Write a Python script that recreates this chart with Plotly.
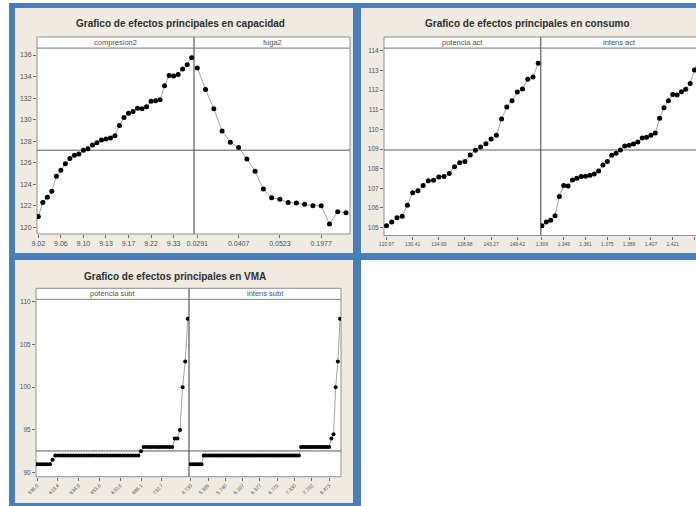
import plotly.graph_objects as go

W, H = 696, 506

# ---------------- data ----------------
# Panel 1: capacidad
compresion2_ticktext = ['9.02', '9.06', '9.10', '9.13', '9.17', '9.22', '9.33']
compresion2_cap = [121.0, 122.3, 122.8, 123.35, 124.75, 125.3, 125.9, 126.4, 126.7, 126.8,
                   127.16, 127.3, 127.65, 127.85, 128.1, 128.2, 128.3, 128.5, 129.45, 130.2,
                   130.6, 130.75, 131.05, 131.0, 131.2, 131.7, 131.75, 131.85, 133.15, 134.1,
                   134.05, 134.2, 134.7, 135.1, 135.75]
fuga2_ticktext = ['0.0291', '0.0407', '0.0523', '0.1977']
fuga2_cap = [134.8, 132.8, 131.0, 128.95, 127.9, 127.4, 126.35, 125.2, 123.55, 122.75,
             122.6, 122.3, 122.25, 122.15, 122.0, 122.0, 120.3, 121.45, 121.35]
cap_mean = 127.16
cap_yticks = [120, 122, 124, 126, 128, 130, 132, 134, 136]

# Panel 2: consumo
potencia_act_ticktext = ['120.97', '130.41', '134.69', '138.98', '143.27', '148.42']
potencia_act_cons = [105.09, 105.29, 105.5, 105.58, 106.14, 106.77, 106.88, 107.14, 107.39, 107.41,
                     107.58, 107.6, 107.76, 108.1, 108.3, 108.36, 108.7, 108.94, 109.1, 109.27,
                     109.51, 109.7, 110.53, 111.14, 111.46, 111.9, 112.05, 112.55, 112.66, 113.36]
intens_act_ticktext = ['1.306', '1.346', '1.361', '1.375', '1.389', '1.407', '1.421', '1.436']
intens_act_cons = [105.09, 105.29, 105.38, 105.6, 106.58, 107.14, 107.12, 107.43, 107.51, 107.6,
                   107.61, 107.66, 107.73, 107.88, 108.19, 108.36, 108.68, 108.78, 108.95, 109.16,
                   109.19, 109.26, 109.36, 109.56, 109.6, 109.7, 109.82, 110.56, 111.1, 111.46,
                   111.78, 111.75, 111.92, 112.04, 112.34, 113.02, 113.6]
cons_mean = 108.95
cons_yticks = [105, 106, 107, 108, 109, 110, 111, 112, 113, 114]

# Panel 3: VMA
potencia_subt_ticktext = ['598.0', '619.4', '634.9', '653.0', '670.0', '688.1', '732.7']
potencia_subt_vma = [91, 91, 91, 91, 91, 91, 91.5,
                     92, 92, 92, 92, 92, 92, 92, 92, 92, 92, 92, 92, 92, 92, 92, 92, 92,
                     92, 92, 92, 92, 92, 92, 92, 92, 92, 92, 92, 92, 92, 92, 92, 92,
                     92.5,
                     93, 93, 93, 93, 93, 93, 93, 93, 93, 93, 93, 93,
                     94, 94, 95, 100, 103, 108]
intens_subt_ticktext = ['4.739', '5.395', '5.740', '6.107', '6.377', '6.775', '7.330', '7.792', '8.473']
intens_subt_vma = [91, 91, 91, 91, 91, 91,
                   92, 92, 92, 92, 92, 92, 92, 92, 92, 92, 92, 92, 92, 92, 92,
                   92, 92, 92, 92, 92, 92, 92, 92, 92, 92, 92, 92, 92, 92, 92,
                   92, 92, 92, 92, 92, 92, 92, 92, 92, 92, 92, 92, 92, 92, 92,
                   93, 93, 93, 93, 93, 93, 93, 93, 93, 93, 93, 93, 93, 93,
                   94, 94.5, 100, 103, 108]
vma_mean = 92.54
vma_yticks = [90, 95, 100, 105, 110]

# ---------------- styling ----------------
BLUE = '#4a7ebb'
BEIGE = '#efebe2'
FRAME = '#8f8f8f'
DIV = '#7a7a7a'
MEANC = '#5a5a5a'
TXT = '#505050'
TITLEC = '#2e2e2e'
FONT = 'Liberation Sans'


def X(px):
    return px / W


def Y(py):
    return 1 - py / H


shapes = []
annotations = []


def rect(x0, y0, x1, y1, fill, line=None, lw=0):
    shapes.append(dict(type='rect', xref='paper', yref='paper', layer='below',
                       x0=X(x0), x1=X(x1), y0=Y(y1), y1=Y(y0), fillcolor=fill,
                       line=dict(color=line or fill, width=lw)))


def vline(x, y0, y1, color, lw):
    shapes.append(dict(type='line', xref='paper', yref='paper', layer='below',
                       x0=X(x), x1=X(x), y0=Y(y1), y1=Y(y0),
                       line=dict(color=color, width=lw)))


# backgrounds / blue borders
rect(9, 3, 700, 510, BLUE)
rect(15, 8, 353, 253, BEIGE)
rect(361, 8, 700, 253, BEIGE)
rect(15, 260, 353, 503, BEIGE)
rect(361, 260, 700, 510, 'white')

panels = [
    dict(title='Grafico de efectos principales en capacidad', tx=180, ty=24,
         left=37, div=194, right=350, stop=37, top=48, bottom=234,
         yr=[119.38, 136.65], yticks=cap_yticks, mean=cap_mean, ytf=7, xtf=7, angle=0, msize=5,
         facets=[
             dict(name='compresion2', y=compresion2_cap, tt=compresion2_ticktext, step=5, xr=[-0.29, 34.52]),
             dict(name='fuga2', y=fuga2_cap, tt=fuga2_ticktext, step=5, xr=[-0.4, 18.49]),
         ]),
    dict(title='Grafico de efectos principales en consumo', tx=527.5, ty=24,
         left=384, div=540.7, right=702, stop=37, top=48, bottom=235.5,
         yr=[104.6, 114.14], yticks=cons_yticks, mean=cons_mean, ytf=6.5, xtf=5, angle=0, msize=5,
         facets=[
             dict(name='potencia act', y=potencia_act_cons, tt=potencia_act_ticktext, step=5, xr=[-0.48, 29.48]),
             dict(name='intens act', y=intens_act_cons, tt=intens_act_ticktext, step=5, xr=[-0.28, 35.34]),
         ]),
    dict(title='Grafico de efectos principales en VMA', tx=175, ty=276,
         left=36, div=189, right=341, stop=288.3, top=299.3, bottom=476.7,
         yr=[89.53, 110.28], yticks=vma_yticks, mean=vma_mean, ytf=6.5, xtf=5, angle=-45, msize=4,
         facets=[
             dict(name='potencia subt', y=potencia_subt_vma, tt=potencia_subt_ticktext, step=8, xr=[-0.385, 58.46]),
             dict(name='intens subt', y=intens_subt_vma, tt=intens_subt_ticktext, step=8, xr=[-0.786, 69.45]),
         ]),
]

fig = go.Figure()
layout_axes = {}
xi = 0
for pi, p in enumerate(panels):
    yname = 'y' if pi == 0 else f'y{pi + 1}'
    ykey = 'yaxis' if pi == 0 else f'yaxis{pi + 1}'
    rect(p['left'], p['top'], p['right'], p['bottom'], 'white', FRAME, 1)
    rect(p['left'], p['stop'], p['right'], p['top'], 'white', FRAME, 1)
    vline(p['div'], p['stop'], p['bottom'], DIV, 1.5)
    annotations.append(dict(text='<b>' + p['title'] + '</b>', xref='paper', yref='paper',
                            x=X(p['tx']), y=Y(p['ty']), showarrow=False,
                            font=dict(family=FONT, size=10, color=TITLEC),
                            xanchor='center', yanchor='middle'))
    bounds = [(p['left'], p['div']), (p['div'], min(p['right'], W))]
    first_xname = None
    for fi, f in enumerate(p['facets']):
        xi += 1
        xname = 'x' if xi == 1 else f'x{xi}'
        xkey = 'xaxis' if xi == 1 else f'xaxis{xi}'
        if first_xname is None:
            first_xname = xname
        n = len(f['y'])
        xs = list(range(n))
        fig.add_trace(go.Scatter(x=xs, y=f['y'], xaxis=xname, yaxis=yname, mode='lines+markers',
                                 line=dict(color='#a3a3a3', width=1),
                                 marker=dict(color='black', size=p['msize']),
                                 showlegend=False, hoverinfo='skip'))
        tv = xs[::f['step']][:len(f['tt'])]
        b0, b1 = bounds[fi]
        layout_axes[xkey] = dict(domain=[X(b0), X(b1)], range=f['xr'], anchor=yname,
                                 automargin=False,
                                 showgrid=False, zeroline=False, showline=False,
                                 ticks='outside', ticklen=3, tickcolor='#6a6a6a', tickwidth=1,
                                 tickvals=tv, ticktext=f['tt'], tickangle=p['angle'],
                                 tickfont=dict(family=FONT, size=p['xtf'], color=TXT))
        if pi == 1 and fi == 1:
            cx = p['div'] + (p['div'] - p['left']) / 2
        else:
            cx = (b0 + b1) / 2
        annotations.append(dict(text=f['name'], xref='paper', yref='paper',
                                x=X(cx), y=Y((p['stop'] + p['top']) / 2), showarrow=False,
                                font=dict(family=FONT, size=7.5, color=TXT),
                                xanchor='center', yanchor='middle'))
    layout_axes[ykey] = dict(domain=[Y(p['bottom']), Y(p['top'])], range=p['yr'], anchor=first_xname,
                             automargin=False,
                             showgrid=False, zeroline=False, showline=False,
                             ticks='outside', ticklen=3, tickcolor='#6a6a6a', tickwidth=1,
                             tickvals=p['yticks'],
                             tickfont=dict(family=FONT, size=p['ytf'], color=TXT))
    shapes.append(dict(type='line', xref='paper', yref=yname, layer='below',
                       x0=X(p['left']), x1=X(min(p['right'], W)), y0=p['mean'], y1=p['mean'],
                       line=dict(color=MEANC, width=1)))

fig.update_layout(width=W, height=H, autosize=False,
                  margin=dict(l=0, r=0, t=0, b=0, pad=0, autoexpand=False),
                  paper_bgcolor='white', plot_bgcolor='rgba(0,0,0,0)',
                  shapes=shapes, annotations=annotations, showlegend=False,
                  font=dict(family=FONT), **layout_axes)

fig.write_html('out.html', config={'displayModeBar': False, 'staticPlot': True},
               post_script="document.body.style.margin='0';document.body.style.padding='0';"
                           "document.body.style.overflow='hidden';")
